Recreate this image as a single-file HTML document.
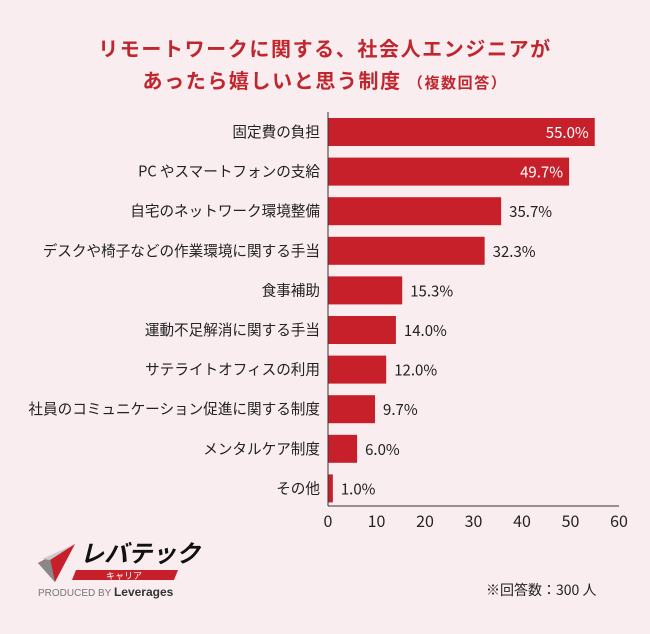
<!DOCTYPE html>
<html><head><meta charset="utf-8"><style>
body{margin:0;background:#f9edf0;}
#wrap{position:relative;width:650px;height:634px;background:#f9edf0;font-family:"Liberation Sans","Noto Sans CJK JP",sans-serif;overflow:hidden}
.t{position:absolute;left:0;width:650px;text-align:center;color:#c0262d;font-weight:bold;font-family:"Noto Sans CJK JP","Liberation Sans",sans-serif;font-size:20px;letter-spacing:1.6px}
</style></head><body>
<div id="wrap">
<div class="t" style="top:33px">リモートワークに関する、社会人エンジニアが</div>
<div class="t" style="top:65px">あったら嬉しいと思う制度 <span style="font-size:15px">（複数回答）</span></div>
<svg id="chart" width="650" height="634" style="position:absolute;left:0;top:0"></svg>
<svg width="200" height="80" style="position:absolute;left:20px;top:530px">
<polygon points="18,33 55,14 35,52" fill="#c8202a"/>
<polygon points="18,33 30,28 35,52" fill="#888"/>
<polygon points="22,29 55,14 30,30" fill="#ccc"/>
<text x="60" y="32" font-size="24" font-weight="bold" font-style="italic" fill="#111" font-family="Noto Sans CJK JP,sans-serif">レバテック</text>
<polygon points="56,40 158,40 154,50 52,50" fill="#c8202a"/>
<text x="104" y="49" font-size="9" fill="#fff" text-anchor="middle" font-family="Noto Sans CJK JP,sans-serif">キャリア</text>
<text x="18" y="66" font-size="10" fill="#777" font-family="Liberation Sans,sans-serif">PRODUCED BY <tspan font-weight="bold" font-size="12" fill="#333">Leverages</tspan></text>
</svg>
<div style="position:absolute;left:486px;top:580px;font-size:14px;color:#222;font-family:'Noto Sans CJK JP',sans-serif">※回答数：300 人</div>
</div>
<script>
const categories=["固定費の負担","PC やスマートフォンの支給","自宅のネットワーク環境整備","デスクや椅子などの作業環境に関する手当","食事補助","運動不足解消に関する手当","サテライトオフィスの利用","社員のコミュニケーション促進に関する制度","メンタルケア制度","その他"];
const values=[55.0,49.7,35.7,32.3,15.3,14.0,12.0,9.7,6.0,1.0];
const ticks=[0,10,20,30,40,50,60];
const NS="http://www.w3.org/2000/svg";
const svg=document.getElementById('chart');
const x0=328,x1=619,top0=112,step=39.6,bh=28;
const xs=v=>x0+(v/60)*(x1-x0);
const yc=i=>132+i*step;
function mk(t,a){const e=document.createElementNS(NS,t);for(const k in a)e.setAttribute(k,a[k]);svg.appendChild(e);return e;}
categories.forEach((c,i)=>{
 const r=mk('rect',{x:x0,y:yc(i)-bh/2,width:xs(values[i])-x0,height:bh,fill:'#c8202a'});
 
 
 const l=mk('text',{x:320,y:yc(i)+5,'text-anchor':'end','font-size':14.6,fill:'#222','font-family':'Noto Sans CJK JP,sans-serif'});
 l.textContent=c;
 
 
 const inside=values[i]>45;
 const v=mk('text',{x:inside?xs(values[i])-6:xs(values[i])+8,y:yc(i)+6,'text-anchor':inside?'end':'start','font-size':15,fill:inside?'#fff':'#222','font-family':'Noto Sans CJK JP,sans-serif'});
 v.textContent=values[i].toFixed(1)+'%';
 
 
});
const ya=mk('line',{x1:x0,y1:top0,x2:x0,y2:506,stroke:'#333','stroke-width':1});


const xa=mk('line',{x1:x0,y1:506,x2:x1,y2:506,stroke:'#333','stroke-width':1});


ticks.forEach(t=>{
 const e=mk('text',{x:xs(t),y:527,'text-anchor':'middle','font-size':16,fill:'#222','font-family':'Noto Sans CJK JP,sans-serif'});
 e.textContent=t;
 
 
});
</script>
</body></html>
